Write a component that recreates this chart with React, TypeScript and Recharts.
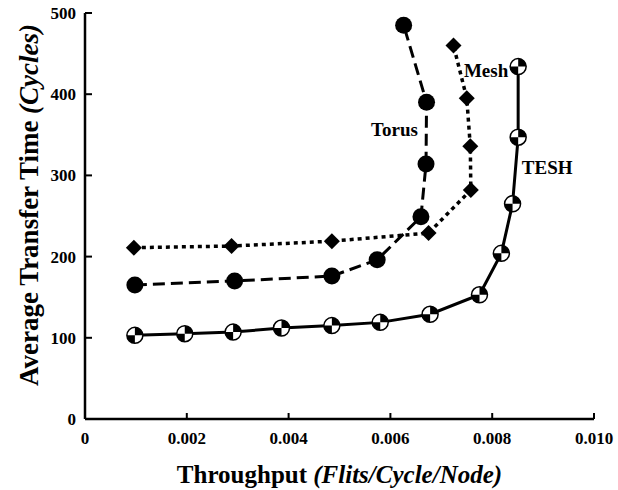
import React from "react";
import {
  ScatterChart,
  Scatter,
  XAxis,
  YAxis,
  Label,
  ReferenceDot,
} from "recharts";

const SERIF = '"Liberation Serif", "Times New Roman", serif';

const xTicks = [0, 0.002, 0.004, 0.006, 0.008, 0.01];
const yTicks = [0, 100, 200, 300, 400, 500];

const teshX = [0.00098, 0.00196, 0.00291, 0.00386, 0.00485, 0.0058, 0.00678, 0.00775, 0.00818, 0.0084, 0.00851, 0.00851];
const teshY = [103, 105, 107, 112, 115, 119, 129, 153, 204, 265, 347, 434];

const torusX = [0.00098, 0.00294, 0.00485, 0.00574, 0.0066, 0.0067, 0.00671, 0.00626];
const torusY = [165, 170, 176, 196, 249, 314, 390, 485];

const meshX = [0.00096, 0.00288, 0.00485, 0.00675, 0.00758, 0.00757, 0.0075, 0.00724];
const meshY = [211, 213, 219, 229, 282, 336, 395, 460];

const seriesNames = ["Mesh", "Torus", "TESH"];
const nameX = [0.00788, 0.00608, 0.00908];
const nameY = [430, 357, 310];

const toPoints = (xs: number[], ys: number[]) => xs.map((x, i) => ({ x, y: ys[i] }));
const teshData = toPoints(teshX, teshY);
const torusData = toPoints(torusX, torusY);
const meshData = toPoints(meshX, meshY);

const fmtX = (v: number) => (v === 0 ? "0" : v.toFixed(3));

const TeshMarker = (props: any) => {
  const { cx, cy } = props;
  const r = 8;
  return (
    <g>
      <circle cx={cx} cy={cy} r={r} fill="#fff" stroke="#000" strokeWidth={1.5} />
      <path d={`M${cx},${cy} L${cx},${cy - r} A${r},${r} 0 0 1 ${cx + r},${cy} Z`} fill="#000" />
      <path d={`M${cx},${cy} L${cx},${cy + r} A${r},${r} 0 0 1 ${cx - r},${cy} Z`} fill="#000" />
    </g>
  );
};

const TorusMarker = (props: any) => <circle cx={props.cx} cy={props.cy} r={8.5} fill="#000" />;

const MeshMarker = (props: any) => {
  const { cx, cy } = props;
  const h = 8;
  return <polygon points={`${cx},${cy - h} ${cx + h},${cy} ${cx},${cy + h} ${cx - h},${cy}`} fill="#000" />;
};

const BottomTick = (p: any) => (
  <g>
    <line x1={p.x} y1={p.y} x2={p.x} y2={p.y - 6} stroke="#000" strokeWidth={2} />
    <text x={p.x} y={p.y + 25} textAnchor="middle" fontFamily={SERIF} fontWeight="bold" fontSize={17} fill="#000">
      {fmtX(p.payload.value)}
    </text>
  </g>
);

const TopTick = (p: any) => (
  <line x1={p.x} y1={p.y} x2={p.x} y2={p.y + 6} stroke="#000" strokeWidth={2} />
);

const LeftTick = (p: any) => (
  <g>
    <line x1={p.x} y1={p.y} x2={p.x + 7} y2={p.y} stroke="#000" strokeWidth={2} />
    <text x={p.x - 9} y={p.y + 6} textAnchor="end" fontFamily={SERIF} fontWeight="bold" fontSize={17} fill="#000">
      {p.payload.value}
    </text>
  </g>
);

const RightTick = (p: any) => (
  <line x1={p.x} y1={p.y} x2={p.x - 7} y2={p.y} stroke="#000" strokeWidth={2} />
);

const XTitle = (p: any) => {
  const { x, y, width } = p.viewBox;
  return (
    <text x={x + width / 2} y={y + 64} textAnchor="middle" fontFamily={SERIF} fontWeight="bold" fontSize={25} fill="#000">
      Throughput <tspan fontStyle="italic">(Flits/Cycle/Node)</tspan>
    </text>
  );
};

const YTitle = (p: any) => {
  const { y, height } = p.viewBox;
  const cx = 29;
  const cy = y + height / 2 - 11;
  return (
    <text
      x={cx}
      y={cy}
      transform={`rotate(-90, ${cx}, ${cy})`}
      textAnchor="middle"
      dominantBaseline="central"
      fontFamily={SERIF}
      fontWeight="bold"
      fontSize={27}
      fill="#000"
    >
      Average Transfer Time <tspan fontStyle="italic">(Cycles)</tspan>
    </text>
  );
};

const axisLine = { stroke: "#000", strokeWidth: 2.5 };

export default function App() {
  return (
    <div style={{ position: "absolute", left: 0, top: 0 }}>
      <ScatterChart width={618} height={490} margin={{ top: 13, right: 24, bottom: 0, left: 0 }}>
        <XAxis
          xAxisId="b"
          type="number"
          dataKey="x"
          domain={[0, 0.01]}
          ticks={xTicks}
          interval={0}
          height={71}
          tickSize={0}
          tickMargin={0}
          tickLine={false}
          axisLine={axisLine}
          tick={(p: any) => <BottomTick {...p} />}
        >
          <Label content={(p: any) => <XTitle {...p} />} />
        </XAxis>
        <XAxis
          xAxisId="t"
          orientation="top"
          type="number"
          dataKey="x"
          domain={[0, 0.01]}
          ticks={xTicks.slice(1, -1)}
          interval={0}
          height={0}
          tickSize={0}
          tickMargin={0}
          tickLine={false}
          axisLine={axisLine}
          tick={(p: any) => <TopTick {...p} />}
        />
        <YAxis
          yAxisId="l"
          type="number"
          dataKey="y"
          domain={[0, 500]}
          ticks={yTicks}
          interval={0}
          width={85}
          tickSize={0}
          tickMargin={0}
          tickLine={false}
          axisLine={axisLine}
          tick={(p: any) => <LeftTick {...p} />}
        >
          <Label content={(p: any) => <YTitle {...p} />} />
        </YAxis>
        <YAxis
          yAxisId="r"
          orientation="right"
          type="number"
          dataKey="y"
          domain={[0, 500]}
          ticks={yTicks.slice(1, -1)}
          interval={0}
          width={0}
          tickSize={0}
          tickMargin={0}
          tickLine={false}
          axisLine={axisLine}
          tick={(p: any) => <RightTick {...p} />}
        />
        <Scatter
          name="TESH"
          data={teshData}
          xAxisId="b"
          yAxisId="l"
          fill="#000"
          line={{ stroke: "#000", strokeWidth: 3 }}
          lineType="joint"
          shape={TeshMarker}
          isAnimationActive={false}
        />
        <Scatter
          name="Torus"
          data={torusData}
          xAxisId="b"
          yAxisId="l"
          fill="#000"
          line={{ stroke: "#000", strokeWidth: 3, strokeDasharray: "12 6" }}
          lineType="joint"
          shape={TorusMarker}
          isAnimationActive={false}
        />
        <Scatter
          name="Mesh"
          data={meshData}
          xAxisId="b"
          yAxisId="l"
          fill="#000"
          line={{ stroke: "#000", strokeWidth: 3.5, strokeDasharray: "4 4" }}
          lineType="joint"
          shape={MeshMarker}
          isAnimationActive={false}
        />
        {seriesNames.map((n, i) => (
          <ReferenceDot
            key={n}
            x={nameX[i]}
            y={nameY[i]}
            xAxisId="b"
            yAxisId="l"
            r={0}
            fill="none"
            stroke="none"
            label={{ value: n, position: "center", fill: "#000", fontSize: 19, fontWeight: "bold", fontFamily: SERIF }}
          />
        ))}
      </ScatterChart>
    </div>
  );
}
